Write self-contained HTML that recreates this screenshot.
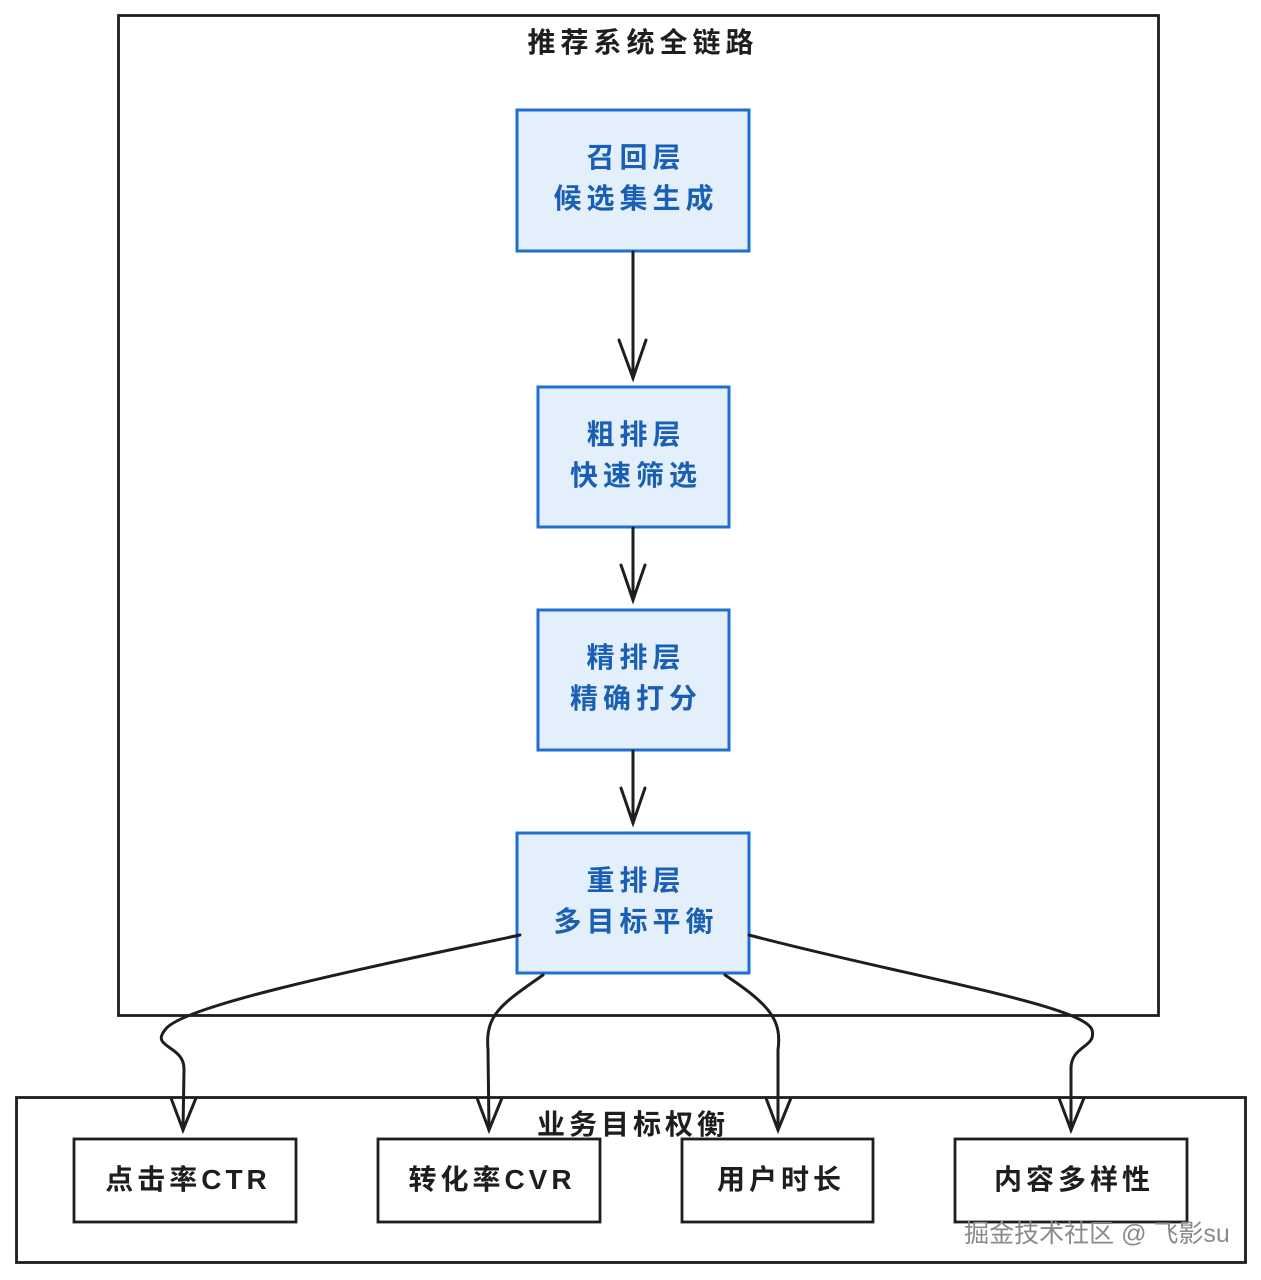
<!DOCTYPE html>
<html><head><meta charset="utf-8"><style>
html,body{margin:0;padding:0;background:#fff;}
svg{display:block}
text{font-family:"Liberation Sans","Noto Sans CJK SC",sans-serif;}
</style></head><body>
<svg width="1261" height="1280" viewBox="0 0 1261 1280" xmlns="http://www.w3.org/2000/svg">
<rect width="1261" height="1280" fill="#fff"/>
<rect x="118.5" y="15.5" width="1040" height="1000" fill="none" stroke="#1e1e1e" stroke-width="2.8"/>
<text x="643" y="52" font-size="28" font-weight="bold" letter-spacing="5" text-anchor="middle" fill="#1e1e1e">推荐系统全链路</text>

<g fill="#e3f0fb" stroke="#1e6fd0" stroke-width="3">
<rect x="517" y="110" width="232" height="141"/>
<rect x="538" y="387" width="191" height="140"/>
<rect x="538" y="610" width="191" height="140"/>
<rect x="517" y="833" width="232" height="140"/>
</g>
<g font-size="28" font-weight="bold" letter-spacing="5" text-anchor="middle" fill="#1a5fb4">
<text x="636" y="167">召回层</text><text x="636" y="208">候选集生成</text>
<text x="636" y="444">粗排层</text><text x="636" y="485">快速筛选</text>
<text x="636" y="667">精排层</text><text x="636" y="708">精确打分</text>
<text x="636" y="890">重排层</text><text x="636" y="931">多目标平衡</text>
</g>

<g fill="none" stroke="#1e1e1e" stroke-width="3" stroke-linecap="round">
<path d="M633 252 L633 378"/><path d="M619 340 L633 378 L646 340"/>
<path d="M633 528 L633 600"/><path d="M621 565 L633 600 L645 565"/>
<path d="M633 751 L633 823"/><path d="M621 788 L633 823 L645 788"/>

<path d="M520 935 C380 965 180 1005 165 1030 C150 1048 185 1045 184 1070 L183 1130"/>
<path d="M171 1098 L183 1130 L196 1098"/>
<path d="M543 975 C500 1005 485 1015 488 1050 L489 1130"/>
<path d="M477 1098 L489 1130 L502 1098"/>
<path d="M725 975 C770 1005 782 1020 778 1050 L778 1130"/>
<path d="M766 1098 L778 1130 L791 1098"/>
<path d="M749 935 C900 975 1085 1005 1092 1030 C1097 1048 1070 1045 1071 1070 L1071 1130"/>
<path d="M1059 1098 L1071 1130 L1084 1098"/>
</g>

<rect x="16.5" y="1097.5" width="1229" height="165" fill="none" stroke="#1e1e1e" stroke-width="2.8"/>
<text x="633" y="1134" font-size="28" font-weight="bold" letter-spacing="4" text-anchor="middle" fill="#1e1e1e">业务目标权衡</text>
<g fill="#fff" stroke="#1e1e1e" stroke-width="2.8">
<rect x="74" y="1139" width="222" height="83"/>
<rect x="378" y="1139" width="222" height="83"/>
<rect x="682" y="1139" width="191" height="83"/>
<rect x="955" y="1139" width="232" height="83"/>
</g>
<g font-size="28" font-weight="bold" letter-spacing="4" text-anchor="middle" fill="#1e1e1e">
<text x="188" y="1189">点击率CTR</text>
<text x="492" y="1189">转化率CVR</text>
<text x="781" y="1189">用户时长</text>
<text x="1074" y="1189">内容多样性</text>
</g>
<text x="1097" y="1242" font-size="25" text-anchor="middle" fill="#8a8a8a">掘金技术社区 @ 飞影su</text>
</svg>
</body></html>
